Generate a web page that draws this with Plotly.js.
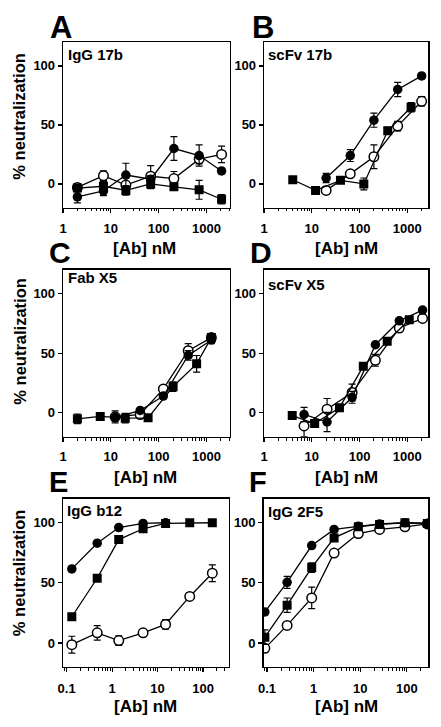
<!DOCTYPE html>
<html><head><meta charset="utf-8">
<script src="https://cdn.plot.ly/plotly-3.0.1.min.js"></script>
<style>html,body{margin:0;padding:0;background:#fff}#chart{width:441px;height:727px}</style>
</head><body><div id="chart"></div>
<script>
// ---- Panel A: IgG 17b ----
const aX = [2.0, 7.0, 20.6, 68, 208, 700, 2060];
const aFilled = [-11, -6, 7.5, 4, 30, 24, 11];
const aFilledErr = [5, 4, 10, 3, 10, 9, 2];
const aOpen = [-3, 7, -1, 6.5, 4.5, 21, 25];
const aOpenErr = [3, 4, 3, 9, 6, 4, 7];
const aSquare = [-3.5, -2, -5.5, 0, -2.5, -5, -13];
const aSquareErr = [3, 4, 4, 4, 2, 8, 4];
// ---- Panel B: scFv 17b ----
const bCircleX = [20, 64, 200, 630, 2000];
const bFilled = [5, 24, 54, 80, 91.5];
const bFilledErr = [4, 5, 6, 6, 2];
const bOpen = [-5.5, 8.5, 23, 49, 70];
const bOpenErr = [3, 3, 10, 4, 4];
const bSquareX = [4, 12, 40, 123, 390, 1200];
const bSquare = [3.5, -5.5, 3, 0, 45, 65];
const bSquareErr = [1, 1, 1, 5, 3, 4];
// ---- Panel C: Fab X5 ----
const cSquareX = [2, 6, 20, 60, 200, 620, 1260];
const cSquare = [-5, -3, -4.5, -4.2, 22, 41, 63];
const cSquareErr = [4, 1, 4, 2, 4, 7, 3];
const cCircleX = [12.3, 41, 125, 414, 1260];
const cFilled = [-4, 2, 14, 48, 61];
const cFilledErr = [3, 1, 2, 4, 3];
const cOpen = [-3.4, -1.4, 20, 52, 63];
const cOpenErr = [5, 1, 2, 6, 3];
// ---- Panel D: scFv X5 ----
const dSquareX = [3.9, 11.5, 38, 120, 380, 1100];
const dSquare = [-2.3, -9, 4.3, 39, 60, 78];
const dSquareErr = [1, 2, 2, 2, 2, 2];
const dCircleX = [6.9, 20.9, 70, 215, 680, 2090];
const dFilled = [-1.4, -7.7, 13, 57, 77, 86];
const dFilledErr = [6, 8, 5, 2, 2, 2];
const dOpen = [-11, 3, 17, 44, 71, 79];
const dOpenErr = [9, 9, 7, 5, 2, 2];
// ---- Panel E: IgG b12 ----
const eX = [0.13, 0.47, 1.4, 4.8, 15, 51, 160];
const eFilledX = [0.13, 0.47, 1.4, 4.8, 15];
const eFilled = [61.6, 83, 96, 99.4, 100];
const eSquare = [21.8, 53.8, 86, 95, 99.4, 100, 100];
const eOpen = [-1.4, 8.4, 2, 8.4, 15.4, 38.7, 58];
const eOpenErr = [7, 6, 4, 0, 4, 0, 7];
// ---- Panel F: IgG 2F5 ----
const fX = [0.09, 0.27, 0.91, 2.75, 9.1, 26, 91, 275];
const fFilled = [25.8, 50.4, 81, 94.4, 97, 99, 100, 99.4];
const fFilledErr = [0, 5, 0, 0, 0, 0, 0, 0];
const fSquare = [4.8, 31.4, 62.7, 87.4, 96.6, 98.6, 100, 99.4];
const fSquareErr = [6, 6, 4, 3, 0, 0, 0, 0];
const fOpen = [-4.5, 14.6, 37.5, 74.8, 91, 94.4, 96.6, 99];
const fOpenErr = [0, 0, 9, 0, 0, 0, 0, 0];

const panelLetters = ['A', 'B', 'C', 'D', 'E', 'F'];
const panelNames = ['IgG 17b', 'scFv 17b', 'Fab X5', 'scFv X5', 'IgG b12', 'IgG 2F5'];
const yTickVals = [0, 50, 100];
const xTickTextNM = ['1', '10', '100', '1000'];
const xTickTextSub = ['0.1', '1', '10', '100'];
const yTitle = '% neutralization';
const xTitle = '[Ab] nM';

const W = 441, H = 727;
const FONT = 'Liberation Sans, Arial, Helvetica, sans-serif';

function series(ax, x, y, err, kind) {
  const marker = kind === 'open'
    ? {symbol: 'circle', size: 9.5, color: '#ffffff', line: {color: '#000', width: 1.5}}
    : kind === 'square'
      ? {symbol: 'square', size: 9, color: '#000', line: {color: '#000', width: 0}}
      : {symbol: 'circle', size: 9.5, color: '#000', line: {color: '#000', width: 0}};
  const t = {
    x: x, y: y, type: 'scatter', mode: 'lines+markers',
    xaxis: 'x' + ax, yaxis: 'y' + ax,
    line: {color: '#000', width: 1.3},
    marker: marker, showlegend: false, hoverinfo: 'skip'
  };
  if (err) t.error_y = {type: 'data', array: err, visible: true, color: '#000', thickness: 1.2, width: 3.5};
  return t;
}

const data = [
  series('', aX, aOpen, aOpenErr, 'open'),
  series('', aX, aSquare, aSquareErr, 'square'),
  series('', aX, aFilled, aFilledErr, 'filled'),
  series('2', bCircleX, bOpen, bOpenErr, 'open'),
  series('2', bSquareX, bSquare, bSquareErr, 'square'),
  series('2', bCircleX, bFilled, bFilledErr, 'filled'),
  series('3', cCircleX, cOpen, cOpenErr, 'open'),
  series('3', cCircleX, cFilled, cFilledErr, 'filled'),
  series('3', cSquareX, cSquare, cSquareErr, 'square'),
  series('4', dCircleX, dOpen, dOpenErr, 'open'),
  series('4', dSquareX, dSquare, dSquareErr, 'square'),
  series('4', dCircleX, dFilled, dFilledErr, 'filled'),
  series('5', eX, eOpen, eOpenErr, 'open'),
  series('5', eX, eSquare, null, 'square'),
  series('5', eFilledX, eFilled, null, 'filled'),
  series('6', fX, fOpen, fOpenErr, 'open'),
  series('6', fX, fSquare, fSquareErr, 'square'),
  series('6', fX, fFilled, fFilledErr, 'filled')
];

// pixel geometry of the six plot boxes [left, right, top, bottom]
const boxes = [
  [63, 230, 42.3, 207.5], [264, 428.3, 42.3, 207.5],
  [63, 230, 269.5, 436.7], [264, 428.3, 269.5, 436.7],
  [63, 228.5, 498.7, 667], [263.5, 428.3, 498.7, 667]
];
const xRanges = [[0, 3.49], [0, 3.44], [0, 3.49], [0, 3.44], [-1.08, 2.56], [-1.075, 2.46]];

function minorVals(lo, hi) {
  const v = [];
  for (let e = lo; e <= hi; e++) for (let m = 2; m <= 9; m++) v.push(m * Math.pow(10, e));
  return v;
}

const layout = {
  width: W, height: H,
  margin: {l: 0, r: 0, t: 0, b: 0},
  paper_bgcolor: '#fff', plot_bgcolor: '#fff',
  font: {family: FONT, color: '#000'},
  annotations: [], showlegend: false
};

boxes.forEach((b, i) => {
  const s = i === 0 ? '' : String(i + 1);
  const sub = i >= 4;
  const tv = sub ? [0.1, 1, 10, 100] : [1, 10, 100, 1000];
  layout['xaxis' + s] = {
    type: 'log', range: xRanges[i], domain: [b[0] / W, b[1] / W], anchor: 'y' + s,
    showline: true, linecolor: '#000', linewidth: 1.3, mirror: true,
    ticks: 'outside', ticklen: 4, tickwidth: 1.2, tickcolor: '#000',
    tickmode: 'array', tickvals: tv, ticktext: sub ? xTickTextSub : xTickTextNM,
    ticklabelstandoff: i >= 2 && i <= 3 ? 3 : 5,
    tickfont: {family: FONT, size: 13, weight: 700, color: '#000'},
    minor: {tickmode: 'array', tickvals: sub ? minorVals(-2, 2) : minorVals(0, 3), ticks: 'outside', ticklen: 2.5, tickwidth: 1, tickcolor: '#000', showgrid: false},
    showgrid: false, zeroline: false, fixedrange: true
  };
  layout['yaxis' + s] = {
    range: [-20, 120], domain: [1 - b[3] / H, 1 - b[2] / H], anchor: 'x' + s,
    showline: true, linecolor: '#000', linewidth: 1.3, mirror: true,
    ticks: 'outside', ticklen: 4, tickwidth: 1.2, tickcolor: '#000',
    tickmode: 'array', tickvals: yTickVals,
    tickfont: {family: FONT, size: 13, weight: 700, color: '#000'},
    showgrid: false, zeroline: false, fixedrange: true
  };
  // panel letter
  const letterPos = [[60.5, 27.5, 31], [262.5, 27.5, 31], [59.5, 252, 30], [260.5, 252, 30], [58.5, 482, 29], [257.5, 482, 29]][i];
  layout.annotations.push({
    xref: 'paper', yref: 'paper', x: letterPos[0] / W, y: 1 - letterPos[1] / H,
    xanchor: 'center', yanchor: 'middle', showarrow: false, borderpad: 0,
    text: panelLetters[i], font: {family: FONT, size: letterPos[2], weight: 700, color: '#000'}
  });
  // panel name inside box
  const namePos = [[66, 54], [266, 54], [66, 277.5], [266, 284], [65, 510], [266, 511]][i];
  layout.annotations.push({
    xref: 'paper', yref: 'paper', x: namePos[0] / W, y: 1 - namePos[1] / H,
    xanchor: 'left', yanchor: 'middle', showarrow: false,
    text: panelNames[i], font: {family: FONT, size: 15, weight: 700, color: '#000'}
  });
  // x axis title
  const xtPos = [[144, 249], [346.7, 249], [145.8, 477], [346.7, 477], [145, 706], [346.7, 706]][i];
  layout.annotations.push({
    xref: 'paper', yref: 'paper', x: xtPos[0] / W, y: 1 - xtPos[1] / H,
    xanchor: 'center', yanchor: 'middle', showarrow: false, borderpad: 0,
    text: xTitle, font: {family: FONT, size: 17, weight: 700, color: '#000'}
  });
  // y axis title (left column only)
  if (i % 2 === 0) {
    const ytY = [116.5, 341.5, 573][i / 2];
    layout.annotations.push({
      xref: 'paper', yref: 'paper', x: 19.2 / W, y: 1 - ytY / H,
      xanchor: 'center', yanchor: 'middle', showarrow: false, textangle: -90,
      text: yTitle, font: {family: FONT, size: 16.5, weight: 700, color: '#000'}
    });
  }
});

Plotly.newPlot('chart', data, layout, {staticPlot: true, displayModeBar: false});
</script>
</body></html>
